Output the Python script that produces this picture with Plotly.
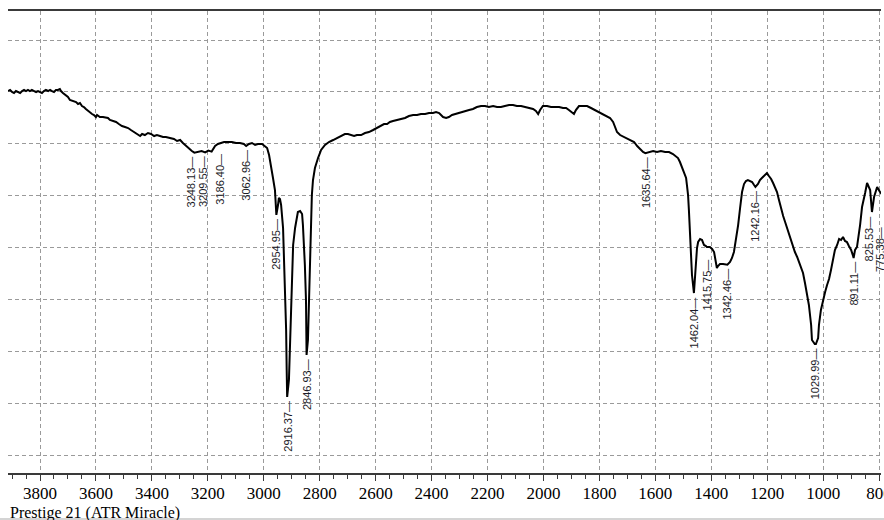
import numpy as np
import plotly.graph_objects as go

# ---- spectrum (wavenumber, %T) ----
wavenumber = [
    3914, 3907, 3900, 3893, 3886, 3879, 3871, 3864, 3857, 3850, 3843, 3836, 3829, 3821, 3814, 3807,
    3800, 3793, 3786, 3779, 3771, 3764, 3757, 3750, 3743, 3736, 3729, 3725, 3718, 3707, 3700, 3693,
    3682, 3671, 3664, 3657, 3650, 3643, 3636, 3628, 3621, 3614, 3607, 3600, 3596, 3586, 3575, 3564,
    3557, 3550, 3539, 3528, 3518, 3507, 3496, 3485, 3475, 3464, 3453, 3442, 3435, 3425, 3414, 3403,
    3392, 3382, 3371, 3360, 3350, 3335, 3321, 3310, 3299, 3289, 3278, 3267, 3257, 3248.13, 3235, 3222,
    3209.55, 3198, 3186.40, 3178, 3174, 3164, 3153, 3142, 3128, 3114, 3099, 3085, 3071, 3062.96, 3053, 3042,
    3031, 3021, 3006, 2996, 2988, 2981, 2974, 2967, 2960, 2954.95, 2949, 2946, 2942, 2938, 2931, 2928,
    2924, 2920, 2918, 2916.37, 2910, 2906, 2903, 2899, 2895, 2888, 2881, 2878, 2870, 2863, 2860, 2856,
    2853, 2849, 2846.93, 2842, 2838, 2835, 2831, 2828, 2824, 2817, 2806, 2795, 2781, 2767, 2752, 2738,
    2724, 2710, 2699, 2688, 2677, 2667, 2652, 2638, 2624, 2609, 2595, 2581, 2570, 2559, 2549, 2538,
    2524, 2509, 2495, 2481, 2466, 2452, 2438, 2423, 2409, 2395, 2384, 2373, 2366, 2359, 2348, 2338,
    2327, 2316, 2306, 2295, 2281, 2266, 2252, 2238, 2223, 2209, 2195, 2180, 2166, 2152, 2138, 2123,
    2109, 2095, 2080, 2066, 2052, 2037, 2027, 2019, 2012, 2002, 1987, 1973, 1959, 1944, 1930, 1919,
    1909, 1898, 1891, 1884, 1873, 1859, 1844, 1830, 1816, 1801, 1787, 1773, 1762, 1751, 1744, 1737,
    1726, 1712, 1698, 1687, 1676, 1665, 1655, 1644, 1635.64, 1623, 1608, 1594, 1580, 1565, 1551, 1537,
    1526, 1519, 1512, 1505, 1497, 1490, 1487, 1483, 1480, 1476, 1472, 1469, 1462.04, 1458, 1455, 1451,
    1447, 1440, 1433, 1426, 1419, 1415.75, 1405, 1397, 1390, 1387, 1383, 1380, 1376, 1369, 1358, 1347,
    1342.46, 1333, 1326, 1319, 1312, 1304, 1297, 1290, 1283, 1276, 1269, 1262, 1254, 1247, 1242.16, 1233,
    1226, 1219, 1211, 1204, 1201, 1194, 1186, 1179, 1172, 1165, 1158, 1151, 1143, 1136, 1129, 1122,
    1115, 1108, 1101, 1093, 1086, 1079, 1072, 1065, 1058, 1051, 1043, 1040, 1029.99, 1026, 1018, 1015,
    1008, 1001, 993, 986, 979, 972, 965, 958, 950, 943, 936, 929, 922, 915, 908, 900,
    893, 891.11, 886, 879, 868, 861, 850, 843, 832, 825.53, 818, 807, 797, 790, 783, 775.38,
]
transmittance = [
    70.17, 70.37, 69.98, 69.79, 70.17, 69.98, 69.79, 70.17, 70.37, 70.17, 70.37, 70.17, 70.37, 70.17, 69.98, 70.17,
    69.98, 69.79, 70.17, 70.37, 70.17, 70.37, 70.17, 69.98, 70.37, 70.37, 70.56, 70.17, 69.79, 69.21, 69.02, 68.44,
    68.25, 68.05, 67.67, 67.86, 67.28, 67.09, 66.71, 66.32, 66.13, 65.74, 65.55, 65.16, 65.55, 65.16, 65.16, 64.97,
    64.97, 64.59, 64.39, 64.20, 63.81, 63.43, 63.24, 63.04, 62.66, 62.27, 61.89, 61.50, 61.89, 61.69, 62.08, 61.89,
    61.50, 61.69, 61.50, 61.31, 61.31, 61.12, 60.92, 60.54, 60.73, 60.15, 59.58, 59.00, 58.61, 58.30, 58.50, 58.60,
    58.35, 58.70, 58.50, 59.20, 59.60, 59.96, 60.15, 60.35, 60.35, 60.35, 60.15, 60.15, 59.96, 59.58, 59.96, 60.15,
    59.77, 59.96, 59.96, 59.58, 59.19, 57.84, 55.91, 53.41, 51.10, 46.30, 48.21, 49.56, 49.36, 48.21, 43.78, 38.57,
    32.79, 24.12, 16.42, 11.21, 14.49, 21.23, 29.90, 36.65, 40.50, 43.78, 46.28, 46.86, 47.05, 46.47, 44.35, 40.50,
    36.65, 29.90, 19.30, 22.20, 31.83, 39.54, 46.28, 50.13, 53.02, 55.34, 57.26, 58.81, 59.77, 60.35, 60.73, 61.12,
    61.50, 61.89, 61.89, 61.69, 61.50, 61.69, 61.69, 62.08, 62.27, 62.66, 63.04, 63.43, 63.81, 63.81, 64.20, 64.39,
    64.59, 64.78, 64.97, 65.36, 65.55, 65.55, 65.74, 65.74, 65.93, 65.93, 66.13, 65.93, 65.55, 65.16, 64.97, 65.16,
    65.55, 65.74, 65.93, 66.13, 66.32, 66.51, 66.71, 67.09, 67.28, 67.28, 67.09, 67.28, 67.09, 67.09, 67.28, 67.48,
    67.48, 67.28, 67.28, 67.09, 66.90, 66.71, 66.32, 65.74, 66.51, 67.28, 67.28, 67.09, 67.09, 67.09, 66.90, 66.90,
    66.51, 65.93, 65.74, 66.51, 67.28, 67.28, 67.28, 66.90, 66.51, 66.13, 65.74, 65.36, 64.97, 64.20, 63.24, 62.27,
    61.69, 61.31, 60.92, 60.73, 60.35, 59.58, 59.00, 58.42, 58.20, 58.42, 58.61, 58.42, 58.61, 58.42, 58.42, 58.03,
    57.65, 57.26, 56.49, 55.53, 54.57, 53.41, 52.06, 50.13, 47.24, 43.39, 38.57, 34.72, 31.25, 34.72, 37.61, 39.92,
    41.08, 41.66, 41.46, 40.50, 40.31, 40.10, 40.12, 39.73, 39.15, 38.38, 37.03, 36.07, 36.45, 36.84, 36.84, 36.84,
    36.70, 37.23, 38.00, 39.15, 41.46, 44.35, 47.63, 50.71, 52.25, 52.83, 53.02, 52.83, 52.64, 52.06, 51.70, 52.25,
    53.02, 53.41, 53.80, 54.18, 54.37, 53.80, 53.22, 52.45, 51.68, 50.71, 49.17, 47.63, 46.09, 44.93, 43.78, 42.81,
    41.46, 40.12, 39.15, 38.19, 37.03, 36.07, 35.11, 33.18, 30.87, 28.94, 25.09, 22.20, 21.42, 21.42, 22.58, 25.09,
    27.98, 29.90, 31.45, 32.79, 33.95, 35.69, 37.61, 39.54, 40.50, 41.66, 41.46, 42.04, 41.27, 41.08, 40.31, 39.54,
    38.38, 38.00, 39.54, 40.12, 44.35, 47.82, 50.52, 52.45, 51.10, 46.86, 49.75, 51.68, 50.71, 50.30, 48.50, 45.50,
]

# peak picks
peaks = [3248.13, 3209.55, 3186.40, 3062.96, 2954.95, 2916.37, 2846.93, 1635.64,
         1462.04, 1415.75, 1342.46, 1242.16, 1029.99, 891.11, 825.53, 775.38]

x_ticks = [3800, 3600, 3400, 3200, 3000, 2800, 2600, 2400, 2200, 2000, 1800, 1600, 1400, 1200, 1000, 800]
footer = "Prestige 21 (ATR Miracle)"

X_RANGE = [3914.4, 793.2]
Y_RANGE = [-3.43, 85.59]

# label nudges (pixels) for crowded picks
label_dx = {3248.13: -3, 3209.55: -2, 3186.40: 8, 825.53: -3}
label_dy = {1415.75: -8, 3186.40: 2, 775.38: -4}

fig = go.Figure()
fig.add_trace(go.Scatter(
    x=wavenumber, y=transmittance, mode="lines",
    line=dict(color="#000000", width=2), hoverinfo="skip", showlegend=False,
))

wn_inc = np.array(wavenumber)[::-1]
t_inc = np.array(transmittance)[::-1]
for p in peaks:
    yv = float(np.interp(p, wn_inc, t_inc))
    xv = max(p, X_RANGE[1] + 6)
    fig.add_annotation(
        x=xv, y=yv, xref="x", yref="y",
        text=f"{p:.2f}\u2014", showarrow=False, textangle=-90,
        xanchor="center", yanchor="top",
        xshift=label_dx.get(p, 0), yshift=-3 + label_dy.get(p, 0),
        font=dict(family="Liberation Sans", size=11, color="#1c1c28"),
        borderpad=0,
    )

fig.add_annotation(
    x=0, y=-0.0865, xref="paper", yref="paper", text=footer, showarrow=False,
    xanchor="left", yanchor="middle",
    font=dict(family="Liberation Serif", size=16, color="#000000"),
)

fig.add_shape(type="line", xref="paper", yref="paper",
              x0=-0.01, x1=1.01, y0=-0.0996, y1=-0.0996,
              line=dict(color="#d4d4d4", width=2))

fig.update_layout(
    width=884, height=520,
    margin=dict(l=8, r=3, t=11, b=47, autoexpand=False),
    paper_bgcolor="white", plot_bgcolor="white",
    showlegend=False,
    xaxis=dict(
        range=X_RANGE, tickmode="array", tickvals=x_ticks,
        ticktext=[str(v) for v in x_ticks],
        ticklabeloverflow="allow", automargin=False, ticklabelstandoff=-2,
        showgrid=True, gridcolor="#9a9a9a", gridwidth=1, griddash="4px,3px",
        showline=True, linecolor="#3a3a3a", linewidth=2, mirror=True,
        ticks="outside", ticklen=6, tickwidth=1, tickcolor="#3a3a3a",
        minor=dict(dtick=50, tick0=0, ticks="outside", ticklen=4, tickwidth=1,
                   tickcolor="#3a3a3a", showgrid=False),
        tickfont=dict(family="Liberation Serif", size=17, color="#000000"),
        zeroline=False,
    ),
    yaxis=dict(
        range=Y_RANGE, tick0=0, dtick=10,
        showgrid=True, gridcolor="#9a9a9a", gridwidth=1, griddash="4px,3px",
        showline=False, showticklabels=False, ticks="", zeroline=False,
        automargin=False,
    ),
)

fig.write_html(
    "out.html",
    config={"displayModeBar": False},
    post_script="document.body.style.margin='0';document.body.style.overflow='hidden';",
)
